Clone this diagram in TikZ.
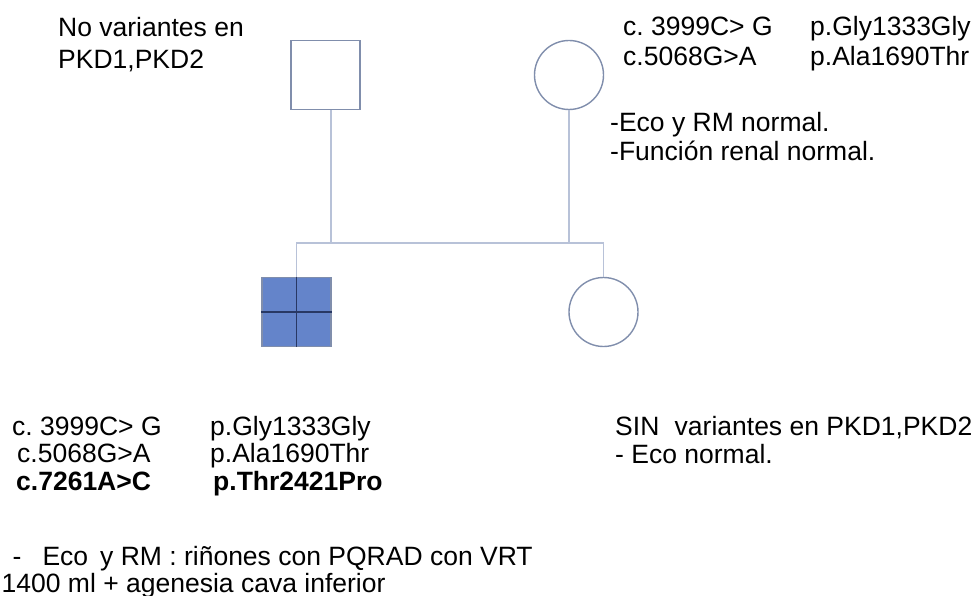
\documentclass[tikz,border=0pt]{standalone}
\usepackage{fontspec}
\setmainfont{Liberation Sans}
\usepackage{tikz}
\frenchspacing

\definecolor{edgegrey}{RGB}{128,142,172}
\definecolor{kingrey}{RGB}{184,194,216}
\definecolor{affblue}{RGB}{100,132,202}
\definecolor{affdark}{RGB}{40,56,100}

\begin{document}
\begin{tikzpicture}[x=1pt,y=-1pt,
    male/.style={shape=rectangle,draw=edgegrey,line width=1.4pt,minimum size=69pt,inner sep=0pt},
    female/.style={shape=circle,draw=edgegrey,line width=1.4pt,minimum size=69pt,inner sep=0pt},
    kin/.style={draw=kingrey,line width=1.2pt},
    txt/.style={anchor=base west,align=left,inner sep=0pt,font=\fontsize{26.5}{28.5}\selectfont}]
        \useasboundingbox (0,0) rectangle (974,596);
        % parents
        \node[male] (F) at (325.5,75) {};
        \node[female] (M) at (569,75) {};
        % children
        \node[male,fill=affblue] (H) at (296.5,312) {};
        \node[female] (D) at (603.5,312) {};
        \draw[affdark,line width=1.2pt] (H.north) -- (H.south);
        \draw[affdark,line width=1.2pt] (H.west) -- (H.east);
        % kinship lines
        \coordinate (FL) at (331,243);
        \coordinate (SL) at (296.5,243);
        \coordinate (SR) at (603.5,243);
        \path [kin] (FL |- F.south) -- (FL);
        \path [kin] (M.south) -- (M.south |- SL);
        \path [kin] (H.north) -- (SL) -- (SR) -- (D.north);
        % texts (placed at the baseline of their last line)
        \node[txt,font=\fontsize{26.5}{32}\selectfont] (tF) at (58,68.5) {No variantes en\\PKD1,PKD2};
        \node[txt,font=\fontsize{26.5}{29.5}\selectfont] (tMc) at (623,65.2) {c. 3999C> G\\c.5068G>A};
        \node[txt,font=\fontsize{26.5}{29.5}\selectfont] (tMp) at (810,65.2) {p.Gly1333Gly\\p.Ala1690Thr};
        \node[txt] (tMe) at (610,160.5) {-Eco y RM normal.\\-Función renal normal.};
        \node[txt,font=\fontsize{26.5}{27.5}\selectfont] (tHc) at (12,490) {c. 3999C> G\\\hspace{5pt}c.5068G>A\\\hspace{4pt}\textbf{c.7261A>C}};
        \node[txt,font=\fontsize{26.5}{27.5}\selectfont] (tHp) at (210,490) {p.Gly1333Gly\\p.Ala1690Thr\\\hspace{3pt}\textbf{p.Thr2421Pro}};
        \node[txt,font=\fontsize{26.5}{27}\selectfont] (tHe) at (1.5,592) {\hspace{11pt}-\hspace{21pt}Eco\hspace{12pt}y RM : riñones con PQRAD con VRT\\1400 ml + agenesia cava inferior};
        \node[txt] (tD) at (615,463.5) {SIN\hspace{8pt} variantes en PKD1,PKD2\\- Eco normal.};
    \end{tikzpicture}
\end{document}
